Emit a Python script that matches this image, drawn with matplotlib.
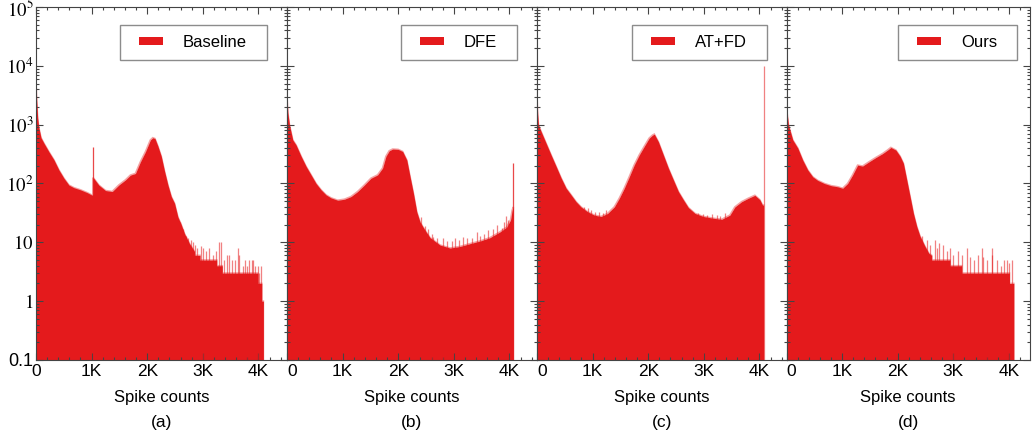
import matplotlib.pyplot as plt
from matplotlib.patches import Patch, Rectangle
from matplotlib.legend_handler import HandlerPatch
from matplotlib.ticker import FixedLocator, MultipleLocator, LogLocator, NullFormatter

plt.rcParams['font.family'] = 'Liberation Sans'
plt.rcParams['mathtext.fontset'] = 'stix'

RED = '#E41A1C'
EDGE = '#444444'

methods = ['Baseline', 'DFE', 'AT+FD', 'Ours']
tags = ['(a)', '(b)', '(c)', '(d)']
xtick_vals = [0, 1000, 2000, 3000, 4000]
xtick_text = ['0', '1K', '2K', '3K', '4K']
ytick_vals = [0.1, 1, 10, 1e2, 1e3, 1e4, 1e5]
ytick_text = ['0.1', '$1$', '$10$', '$10^2$', '$10^3$', '$10^4$', '$10^5$']

# histogram outlines: spike count -> number of neurons
base_x = [0, 12, 30, 50, 90, 145, 233, 323, 412, 502, 592, 681, 801, 920, 1000,
          1022, 1022, 1040, 1130, 1250, 1370, 1488, 1608, 1698, 1788, 1877,
          1967, 2057, 2100, 2140, 2193, 2253, 2313, 2373, 2433, 2492, 2552,
          2612, 2672, 2761, 2850, 2850, 2950, 2950, 3250, 3250, 3350, 3350,
          3990, 3990, 4060, 4060, 4090, 4090]
base_y = [5200, 2600, 1300, 900, 600, 480, 345, 252, 170, 123, 94, 85, 78, 70, 64,
          64, 125, 122, 94, 76, 73, 94, 115, 139, 148, 233,
          345, 550, 600, 580, 430, 290, 160, 94, 60, 46, 27,
          20, 14, 9.5, 7, 6, 6, 5, 5, 4, 4, 3,
          3, 2, 2, 1, 1, 0.1]

dfe_x = [0, 15, 45, 104, 164, 254, 344, 433, 523, 613, 703, 792, 911, 1031, 1151,
         1270, 1390, 1510, 1629, 1719, 1779, 1838, 1900, 2000, 2080, 2155, 2214,
         2274, 2334, 2394, 2483, 2573, 2752, 2932, 3111, 3290, 3469, 3649, 3828,
         3948, 4020, 4050, 4070, 4070]
dfe_y = [3000, 1600, 980, 550, 450, 290, 195, 140, 100, 78, 64, 57, 52, 54, 60,
         73, 94, 123, 140, 183, 290, 360, 385, 380, 350, 250, 130,
         68, 33, 22, 16, 12, 9, 8, 8.5, 9.5, 10.5, 12, 15,
         18, 24, 35, 40, 0.1]

atfd_x = [0, 12, 27, 75, 165, 254, 344, 434, 524, 613, 703, 792, 911, 1031, 1151,
          1270, 1390, 1479, 1569, 1659, 1748, 1838, 1927, 2017, 2077, 2110, 2184,
          2273, 2363, 2453, 2543, 2632, 2722, 2842, 2991, 3170, 3320, 3469, 3559,
          3679, 3798, 3918, 4008, 4056, 4075, 4075]
atfd_y = [3000, 1500, 980, 760, 480, 305, 195, 124, 83, 64, 49, 40, 33, 29, 27.5,
          31, 40, 56, 83, 130, 206, 305, 425, 590, 665, 690, 510,
          305, 182, 115, 73, 53, 39, 31, 27.5, 25.7, 24.6, 29, 40,
          49, 56, 63, 53, 43, 43, 0.1]

ours_x = [0, 10, 36, 113, 203, 292, 382, 472, 561, 681, 801, 920, 1010, 1099, 1189,
          1279, 1368, 1488, 1608, 1727, 1817, 1877, 1967, 2044, 2103, 2163, 2223,
          2283, 2343, 2402, 2492, 2560, 2612, 2612, 2940, 2940, 3150, 3150, 4010,
          4010, 4088, 4088]
ours_y = [3200, 1600, 980, 550, 400, 250, 170, 130, 113, 100, 92, 88, 83, 100, 140,
          205, 198, 235, 277, 322, 370, 410, 370, 290, 220, 115, 60,
          31, 18.6, 12.7, 8.5, 6.5, 6, 5, 5, 4, 4, 3, 3,
          2, 2, 0.1]

# single bins standing well above their neighbours
base_spike_x, base_spike_y = [1028], [410]
dfe_spike_x, dfe_spike_y = [4067], [225]
atfd_spike_x, atfd_spike_y = [4080], [10000]
ours_spike_x, ours_spike_y = [], []

# scattered bins above the floor of the noisy stretches
base_tip_x = [2594, 2642, 2650, 2700, 2731, 2791, 2820, 2863, 2900, 2970, 3012,
              3050, 3120, 3180, 3230, 3299, 3330, 3380, 3430, 3480, 3530, 3580,
              3627, 3660, 3717, 3760, 3800, 3836, 3884, 3897, 3940, 3985, 4010,
              4045]
base_tip_y = [22, 17, 15, 13, 11.7, 11, 10, 9, 8, 8.5, 8,
              7, 8, 6, 7, 10, 10, 5, 6, 6, 5, 5,
              8, 6, 4, 5, 4, 5, 5, 5, 4, 4, 3,
              4]
dfe_tip_x = [2406, 2483, 2540, 2603, 2633, 2700, 2812, 2880, 2960, 3021, 3090,
             3171, 3240, 3320, 3410, 3480, 3540, 3619, 3700, 3769, 3858, 3900,
             3936, 3978]
dfe_tip_y = [27, 18.6, 17, 14, 12.5, 12, 11.8, 10.5, 10.5, 11.8, 11,
             12.5, 12, 11.8, 15, 13, 14, 16, 17, 19.6, 17.4, 22,
             27.6, 24]
atfd_tip_x = [850, 920, 980, 1050, 1110, 1180, 1240, 2900, 2980, 3060, 3150,
              3230, 3300, 3380]
atfd_tip_y = [40, 38, 35, 33, 33, 32, 35, 31, 30, 29, 30,
              29, 28, 31]
ours_tip_x = [2432, 2522, 2580, 2671, 2700, 2749, 2821, 2880, 2940, 3000, 3080,
              3149, 3240, 3299, 3380, 3440, 3508, 3526, 3600, 3688, 3705, 3780,
              3850, 3914, 3960, 4004, 4064]
ours_tip_y = [13, 11, 9, 11, 8, 9.6, 9, 7, 8, 6, 7,
              6, 8, 5.6, 5, 6, 8, 5.6, 5, 8, 6, 5,
              4, 5, 5, 4.5, 5]

outlines = [(base_x, base_y), (dfe_x, dfe_y), (atfd_x, atfd_y), (ours_x, ours_y)]
spikes = [(base_spike_x, base_spike_y), (dfe_spike_x, dfe_spike_y),
          (atfd_spike_x, atfd_spike_y), (ours_spike_x, ours_spike_y)]
tips = [(base_tip_x, base_tip_y), (dfe_tip_x, dfe_tip_y),
        (atfd_tip_x, atfd_tip_y), (ours_tip_x, ours_tip_y)]

# panel frames in pixels (left, right), legend boxes in pixels (left, right)
W, H = 1035, 434
panel_px = [(36, 287), (287, 537), (537, 786.5), (786.5, 1030)]
legend_px = [(120, 267), (401, 517), (632, 767), (898, 1017)]
px_per_k = 55.6
top_px, bottom_px = 7, 360


def legend_box(legend, orig_handle, xdescent, ydescent, width, height, fontsize):
    w, h = 17.3, 5.8
    return Rectangle((-xdescent + width - w, -ydescent + (height - h) / 2), w, h)


fig = plt.figure(figsize=(W / 100, H / 100), dpi=100)

for i, (left, right) in enumerate(panel_px):
    ax = fig.add_axes([left / W, 1 - bottom_px / H, (right - left) / W,
                       (bottom_px - top_px) / H])
    x, y = outlines[i]
    ax.fill_between(x, y, 0.1, color=RED, lw=0)
    # soft, slightly ragged top edge
    ax.plot(x, y, color=RED, lw=1.2, alpha=0.4, solid_joinstyle='miter')
    sx, sy = spikes[i]
    if sx:
        ax.vlines(sx, 0.1, sy, color=RED, lw=0.9, alpha=0.55 if i == 2 else 0.8)
    tx, ty = tips[i]
    if tx:
        ax.vlines(tx, 0.1, ty, color=RED, lw=0.9, alpha=0.55)

    ax.set_yscale('log')
    ax.set_ylim(0.1, 1e5)
    ax.set_xlim(0, (right - left) * 1000 / px_per_k)

    ax.xaxis.set_major_locator(FixedLocator(xtick_vals))
    ax.set_xticklabels(xtick_text, fontsize=12.5)
    ax.xaxis.set_minor_locator(MultipleLocator(200))
    ax.yaxis.set_major_locator(FixedLocator(ytick_vals))
    ax.yaxis.set_minor_locator(LogLocator(base=10, subs=range(2, 10), numticks=20))
    ax.yaxis.set_minor_formatter(NullFormatter())
    if i == 0:
        labels = ax.set_yticklabels(ytick_text, fontsize=13.5)
        labels[0].set_fontsize(13)
    else:
        ax.tick_params(labelleft=False)
        ax.get_xticklabels()[0].set_horizontalalignment('left')

    ax.tick_params(which='both', direction='in', top=True, right=True,
                   color=EDGE, width=0.8)
    ax.tick_params(which='major', length=5, pad=3)
    ax.tick_params(which='minor', length=2.5)
    ax.tick_params(axis='y', pad=2)
    for sp in ax.spines.values():
        sp.set_color(EDGE)
        sp.set_linewidth(0.8)

    ax.set_xlabel('Spike counts', fontsize=12, labelpad=7.5)
    ax.text(0.5, -(422 - bottom_px) / (bottom_px - top_px), tags[i],
            transform=ax.transAxes, ha='center', va='center', fontsize=12.5)

    lx0, lx1 = legend_px[i]
    handle = Patch(facecolor=RED, edgecolor='none')
    leg = ax.legend([handle], [methods[i]], loc='upper left', mode='expand',
                    bbox_to_anchor=(lx0 / W, 1 - 64 / H, (lx1 - lx0) / W, 39 / H),
                    bbox_transform=fig.transFigure, borderaxespad=0,
                    borderpad=0.6, handlelength=1.98, handletextpad=1.2,
                    fontsize=12, fancybox=False, framealpha=1, edgecolor='#8c8c8c',
                    handler_map={handle: HandlerPatch(patch_func=legend_box)})
    leg.get_frame().set_linewidth(1.0)

fig.savefig('out.png', dpi=100)
